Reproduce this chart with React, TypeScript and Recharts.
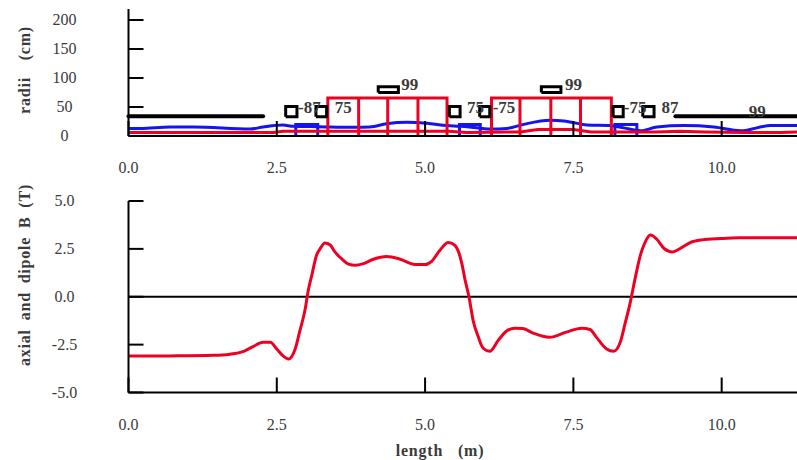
import { Label, Line, LineChart, ReferenceDot, ReferenceLine, XAxis, YAxis } from "recharts";

const serif = "'Liberation Serif', serif";
const textColor = "#3a3a3a";
const red = "#ee0022";
const blue = "#1414f0";

const xTicks = [0, 2.5, 5, 7.5, 10];
const radiiTicks = [0, 50, 100, 150, 200];
const fieldTicks = [-5, -2.5, 0, 2.5, 5];

// axial and dipole field along the beam
const fieldX = [
  0, 0.7, 1.43, 1.71, 1.94, 2.1, 2.27, 2.39, 2.5, 2.61, 2.7, 2.81, 2.89, 2.98, 3.03, 3.09, 3.17, 3.23, 3.31, 3.4, 3.48,
  3.6, 3.71, 3.82, 3.96, 4.13, 4.35, 4.58, 4.83, 5.0, 5.11, 5.25, 5.39, 5.5, 5.62, 5.67, 5.74, 5.81, 5.9, 5.98, 6.09,
  6.23, 6.37, 6.51, 6.65, 6.82, 7.1, 7.38, 7.64, 7.78, 7.89, 8.06, 8.18, 8.29, 8.37, 8.46, 8.5, 8.57, 8.63, 8.7, 8.8,
  8.91, 9.03, 9.17, 9.3, 9.47, 9.67, 9.98, 10.3, 11.27,
];
const fieldB = [
  -3.1, -3.09, -3.06, -3.0, -2.85, -2.6, -2.38, -2.38, -2.73, -3.1, -3.25, -2.73, -1.77, -0.63, 0.33, 1.12, 2.17, 2.5,
  2.81, 2.7, 2.34, 1.96, 1.7, 1.64, 1.73, 1.96, 2.1, 1.96, 1.68, 1.68, 1.85, 2.43, 2.83, 2.69, 1.73, 0.94, 0, -1.24,
  -2.12, -2.69, -2.85, -2.29, -1.8, -1.64, -1.66, -1.9, -2.12, -1.85, -1.64, -1.71, -2.12, -2.73, -2.85, -2.38, -1.42,
  -0.28, 0.33, 1.38, 2.17, 2.78, 3.22, 2.99, 2.52, 2.34, 2.52, 2.83, 2.97, 3.04, 3.08, 3.08,
];

// beam envelope (blue) and beam radius (red)
const envelopeX = [
  0, 0.2, 0.7, 1.1, 2.05, 2.27, 2.6, 2.78, 3.2, 3.8, 4.07, 4.35, 4.7, 5.03, 5.37, 5.54, 5.71, 6.1, 6.38, 6.66, 7.11,
  7.34, 7.73, 8.12, 8.35, 8.63, 8.91, 9.36, 9.87, 10.32, 10.83, 11.27,
];
const envelopeR = [
  13, 13, 15.5, 15.5, 12, 15.5, 19, 16.7, 16, 15, 15.5, 21, 23.5, 22, 18, 17, 16, 12, 13, 20, 27, 26, 19, 18, 14, 9, 15.5,
  18, 15.5, 9, 18, 18,
];
const beamX = [0, 2.45, 2.6, 5.4, 5.7, 6.6, 6.9, 7.5, 7.8, 8.4, 8.9, 9.3, 9.7, 10.4, 11.0, 11.27];
const beamR = [6, 6, 8, 8, 6, 7, 11, 11, 7, 7, 7, 8, 7, 6, 6, 7];

// element extents along the beam [start, end] and apertures in cm
const dipoleEdges = [
  [3.36, 3.88, 4.37, 4.88, 5.37],
  [6.12, 6.6, 7.12, 7.62, 8.14],
];
const dipoleRadius = 65.5;
const correctors = [
  [2.82, 3.19],
  [5.58, 5.93],
  [8.2, 8.57],
];
const correctorRadius = 20;
const coilBoxes = [
  [2.65, 2.84, 33, 51],
  [3.16, 3.34, 33, 51],
  [4.21, 4.55, 75, 85],
  [5.41, 5.59, 33, 51],
  [5.92, 6.09, 33, 51],
  [6.96, 7.29, 75, 85],
  [8.17, 8.34, 33, 51],
  [8.67, 8.86, 33, 51],
];
const pipeSegments = [
  [0, 2.27],
  [9.22, 11.27],
];
const pipeRadius = 34;

// field strength labels
const elementLabels = ["-87", "75", "99", "75", "-75", "99", "-75", "87", "99"];
const labelX = [3.05, 3.62, 4.74, 5.85, 6.33, 7.5, 8.54, 9.13, 10.6];
const labelY = [50, 50, 89, 50, 50, 89, 50, 50, 43.5];

const toRows = (xs: number[], ys: number[]) => xs.map((x, i) => ({ x, y: ys[i] }));
const boxRows = (x0: number, x1: number, y0: number, y1: number) => [
  { x: x0, y: y0 },
  { x: x0, y: y1 },
  { x: x1, y: y1 },
  { x: x1, y: y0 },
  { x: x0, y: y0 },
];
// open at the bottom, standing on the axis
const archRows = (x0: number, x1: number, top: number) => [
  { x: x0, y: 0 },
  { x: x0, y: top },
  { x: x1, y: top },
  { x: x1, y: 0 },
];
const legRows = (x: number, top: number) => [
  { x, y: 0 },
  { x, y: top },
];

function XTick({ x, y, payload }: any) {
  return (
    <g>
      <line x1={x} x2={x} y1={y - 37} y2={y - 52} stroke="#000" strokeWidth={2} />
      <text x={x} y={y} textAnchor="middle" fontFamily={serif} fontSize={16} fill={textColor}>
        {payload.value.toFixed(1)}
      </text>
    </g>
  );
}

function YTick({ x, y, payload, digits }: any) {
  return (
    <g>
      <line x1={x + 50} x2={x + 65} y1={y} y2={y} stroke="#000" strokeWidth={2} />
      <text x={x - 14} y={y + 5} textAnchor="middle" fontFamily={serif} fontSize={16} fill={textColor}>
        {payload.value.toFixed(digits)}
      </text>
    </g>
  );
}

function Title({ x, y, rotate, text, gap }: { x: number; y: number; rotate?: boolean; text: string; gap: number }) {
  return (
    <text
      x={x}
      y={y}
      textAnchor="middle"
      fontFamily={serif}
      fontSize={16}
      fontWeight="bold"
      fill={textColor}
      letterSpacing={0.8}
      wordSpacing={gap}
      transform={rotate ? `rotate(-90 ${x} ${y})` : undefined}
    >
      {text}
    </text>
  );
}

function thinLine(key: string, rows: { x: number; y: number }[], color: string, width = 3, smooth = false) {
  return (
    <Line
      key={key}
      data={rows}
      dataKey="y"
      type={smooth ? "monotoneX" : "linear"}
      stroke={color}
      strokeWidth={width}
      dot={false}
      isAnimationActive={false}
      legendType="none"
    />
  );
}

function RadiiChart() {
  return (
    <LineChart width={797} height={180} margin={{ top: 9, right: 0, bottom: 0, left: 0 }}>
      <XAxis
        dataKey="x"
        type="number"
        domain={[0, 11.27]}
        ticks={xTicks}
        height={44}
        axisLine={{ stroke: "#000", strokeWidth: 2 }}
        tickLine={false}
        tickSize={0}
        tickMargin={37}
        tick={<XTick />}
      />
      <YAxis
        type="number"
        domain={[0, 219]}
        ticks={radiiTicks}
        width={128.5}
        axisLine={{ stroke: "#000", strokeWidth: 2 }}
        tickLine={false}
        tickSize={0}
        tickMargin={50}
        tick={<YTick digits={0} />}
      >
        <Label content={() => <Title x={30} y={70} rotate text="radii (cm)" gap={12} />} />
      </YAxis>
      {elementLabels.map((label, i) => (
        <ReferenceDot
          key={i}
          x={labelX[i]}
          y={labelY[i]}
          r={0}
          stroke="none"
          label={{
            value: label,
            position: "center",
            fontFamily: serif,
            fontSize: 17,
            fontWeight: "bold",
            fill: textColor,
          }}
        />
      ))}
      {thinLine("envelope", toRows(envelopeX, envelopeR), blue, 3, true)}
      {correctors.map(([x0, x1], i) => thinLine(`corrector-${i}`, archRows(x0, x1, correctorRadius), blue))}
      {thinLine("beam", toRows(beamX, beamR), red)}
      {dipoleEdges.flatMap((edges, i) => [
        thinLine(`dipole-${i}`, archRows(edges[0], edges[4], dipoleRadius), red),
        ...edges.slice(1, 4).map((x, j) => thinLine(`dipole-${i}-${j}`, legRows(x, dipoleRadius), red)),
      ])}
      {pipeSegments.map(([x0, x1], i) => (
        <Line
          key={`pipe-${i}`}
          data={[
            { x: x0, y: pipeRadius },
            { x: x1, y: pipeRadius },
          ]}
          dataKey="y"
          stroke="#000"
          strokeWidth={4}
          strokeLinecap="round"
          dot={false}
          isAnimationActive={false}
        />
      ))}
      {coilBoxes.map(([x0, x1, y0, y1], i) => thinLine(`coil-${i}`, boxRows(x0, x1, y0, y1), "#000"))}
    </LineChart>
  );
}

function FieldChart() {
  return (
    <LineChart width={797} height={280} margin={{ top: 21, right: 0, bottom: 0, left: 0 }}>
      <XAxis
        dataKey="x"
        type="number"
        domain={[0, 11.27]}
        ticks={xTicks}
        height={67.5}
        axisLine={{ stroke: "#000", strokeWidth: 2 }}
        tickLine={false}
        tickSize={0}
        tickMargin={37}
        tick={<XTick />}
      >
        <Label content={() => <Title x={440} y={276} text="length (m)" gap={10} />} />
      </XAxis>
      <YAxis
        type="number"
        domain={[-5, 5]}
        ticks={fieldTicks}
        width={128.5}
        axisLine={{ stroke: "#000", strokeWidth: 2 }}
        tickLine={false}
        tickSize={0}
        tickMargin={50}
        tick={<YTick digits={1} />}
      >
        <Label content={() => <Title x={30} y={95} rotate text="axial and dipole B (T)" gap={4} />} />
      </YAxis>
      <ReferenceLine y={0} stroke="#000" strokeWidth={2} />
      {thinLine("field", toRows(fieldX, fieldB), red, 3, true)}
    </LineChart>
  );
}

export default function App() {
  return (
    <div style={{ position: "absolute", left: 0, top: 0, width: 797, height: 460, overflow: "hidden" }}>
      <RadiiChart />
      <FieldChart />
    </div>
  );
}
